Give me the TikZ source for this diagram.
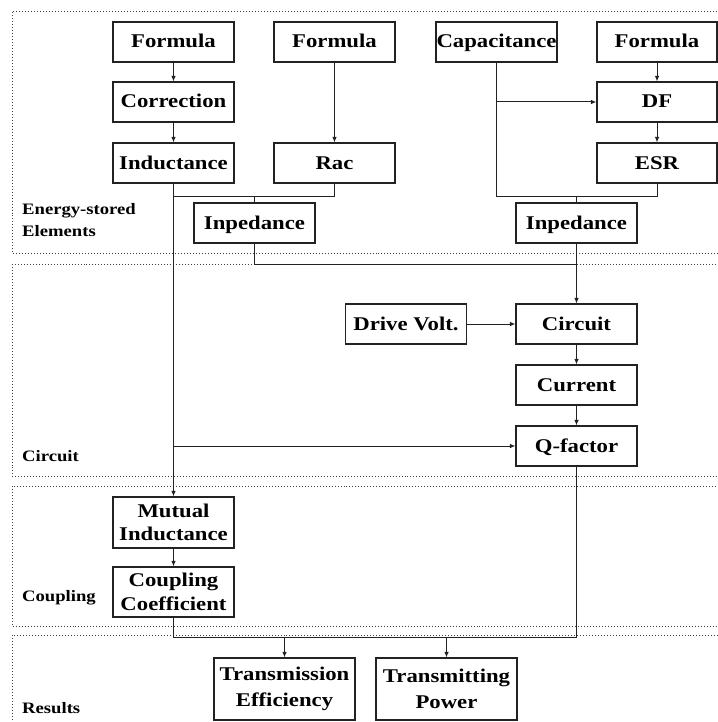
\documentclass[tikz,border=0pt]{standalone}
\usepackage{fontspec}
\setmainfont[FakeStretch=1.17]{Liberation Serif}
\usetikzlibrary{arrows.meta}
\definecolor{boxline}{HTML}{222222}
\tikzset{
  blk/.style={draw=boxline, line width=1.1bp, minimum width=121bp, minimum height=40bp, inner sep=0pt,
    font=\bfseries\fontsize{19.5}{22}\selectfont, text=black, align=center},
  one/.style={text height=14bp, text depth=2bp},
  conn/.style={draw=boxline, line width=1bp},
  arr/.style={conn, -{Latex[length=5.5bp,width=4.5bp]}},
  region/.style={draw=black!75, dotted, line width=1bp},
  sect/.style={font=\bfseries\fontsize{16}{22}\selectfont, anchor=west, align=left, inner sep=0pt}
}
\begin{document}
\begin{tikzpicture}[x=1bp,y=-1bp]
\useasboundingbox (0,0) rectangle (718,722);
\clip (0,0) rectangle (718,722);
% regions
\draw[region] (12,12) rectangle (740,253);
\draw[region] (12,264) rectangle (740,476);
\draw[region] (12,486) rectangle (740,626);
\draw[region] (12,635) rectangle (740,745);
% section labels
\node[sect, anchor=north west] (lab1) at (22,203) {Energy-stored\\Elements};
\node[sect] (lab2) at (22,456) {Circuit};
\node[sect] (lab3) at (22,598) {Coupling};
\node[sect] (lab4) at (22,708) {Results};
% boxes
\node[blk, one] (f1) at (173.5,42) {Formula};
\node[blk, one] (f2) at (334.5,42) {Formula};
\node[blk, one] (cap) at (496.5,42) {Capacitance};
\node[blk, one, minimum width=120bp] (f3) at (657,42) {Formula};
\node[blk, one] (corr) at (173.5,102) {Correction};
\node[blk, one, minimum width=120bp] (df) at (657,102) {DF};
\node[blk, one] (ind) at (173.5,163) {Inductance};
\node[blk, one] (rac) at (334.5,163) {Rac};
\node[blk, one, minimum width=120bp] (esr) at (657,163) {ESR};
\node[blk, one] (impL) at (254.5,223) {Inpedance};
\node[blk, one] (impR) at (576.5,223) {Inpedance};
\node[blk, one] (drv) at (406,324) {Drive Volt.};
\node[blk, one] (circ) at (576.5,324) {Circuit};
\node[blk, one] (cur) at (576.5,385) {Current};
\node[blk, one] (qf) at (576.5,446) {Q-factor};
\node[blk, minimum height=51bp, font=\bfseries\fontsize{19.5}{23.5}\selectfont] (mi) at (173.5,522.5) {Mutual\\Inductance};
\node[blk, minimum height=50bp, font=\bfseries\fontsize{19.5}{23.5}\selectfont] (cc) at (173.5,592) {Coupling\\Coefficient};
\node[blk, minimum width=141bp, minimum height=62bp, font=\bfseries\fontsize{19.5}{26}\selectfont] (te) at (284.5,689) {Transmission\\Efficiency};
\node[blk, minimum width=141bp, minimum height=62bp, font=\bfseries\fontsize{19.5}{26}\selectfont] (tp) at (446.5,689) {Transmitting\\Power};
% junction levels
\coordinate (j1) at (0,196);
\coordinate (j2) at (0,264);
\coordinate (j3) at (0,637);
% connectors
\draw[arr] (f1) -- (corr);
\draw[arr] (corr) -- (ind);
\draw[arr] (f2) -- (rac);
\draw[arr] (f3) -- (df);
\draw[arr] (df) -- (esr);
\draw[conn] (ind.south |- j1) -| (rac.south);
\draw[conn] (impL.north) -- (impL.north |- j1);
\draw[conn] (cap.south) -- (cap.south |- j1) -| (esr.south);
\draw[conn] (impR.north) -- (impR.north |- j1);
\draw[arr] (cap.south |- df.west) -- (df.west);
\draw[conn] (impL.south) |- (impR.south |- j2);
\draw[arr] (impR.south) -- (circ.north);
\draw[arr] (ind.south) -- (mi.north);
\draw[arr] (ind.south |- qf.west) -- (qf.west);
\draw[arr] (drv) -- (circ);
\draw[arr] (circ) -- (cur);
\draw[arr] (cur) -- (qf);
\draw[arr] (mi) -- (cc);
\draw[conn] (cc.south) -- (cc.south |- j3) -| (qf.south);
\draw[arr] (te.north |- j3) -- (te.north);
\draw[arr] (tp.north |- j3) -- (tp.north);
\end{tikzpicture}
\end{document}
